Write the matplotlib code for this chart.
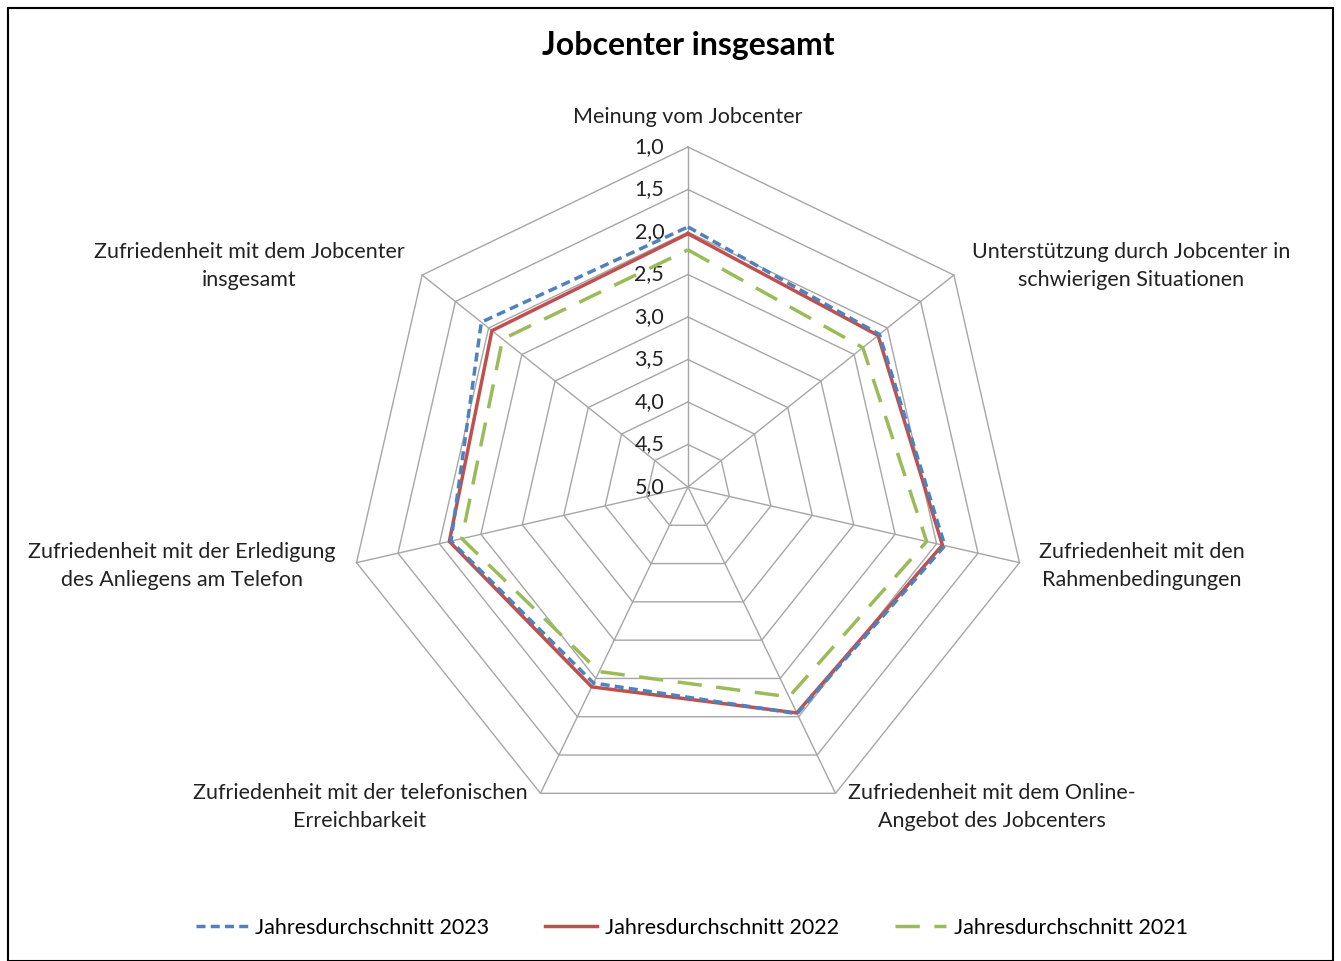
import matplotlib.pyplot as plt
import numpy as np
from matplotlib.patches import Rectangle

KATEGORIEN = [
    "Meinung vom Jobcenter",
    "Unterstützung durch Jobcenter in\nschwierigen Situationen",
    "Zufriedenheit mit den\nRahmenbedingungen",
    "Zufriedenheit mit dem Online-\nAngebot des Jobcenters",
    "Zufriedenheit mit der telefonischen\nErreichbarkeit",
    "Zufriedenheit mit der Erledigung\ndes Anliegens am Telefon",
    "Zufriedenheit mit dem Jobcenter\ninsgesamt",
]
WERTE_2023 = [1.94, 2.12, 1.90, 2.04, 2.44, 2.14, 1.89]
WERTE_2022 = [2.02, 2.14, 1.93, 2.05, 2.39, 2.12, 2.05]
WERTE_2021 = [2.21, 2.37, 2.12, 2.26, 2.59, 2.27, 2.21]
SKALA = [1.0, 1.5, 2.0, 2.5, 3.0, 3.5, 4.0, 4.5, 5.0]

plt.rcParams["font.family"] = ["Lato", "DejaVu Sans"]

PX = 85.0  # pixel pro Skaleneinheit
CX, CY = 688, 487  # mitte in pixel
FS = 15.5


def pos(px, py):
    return (px - CX) / PX, (CY - py) / PX


def xy(werte):
    n = len(werte)
    th = 2 * np.pi * np.arange(n) / n
    r = 5.0 - np.asarray(werte)
    x = r * np.sin(th)
    y = r * np.cos(th)
    return np.append(x, x[0]), np.append(y, y[0])


fig = plt.figure(figsize=(13.41, 9.61), dpi=100)
ax = fig.add_axes([0, 0, 1, 1])
ax.set_xlim(-CX / PX, (1341 - CX) / PX)
ax.set_ylim(-(961 - CY) / PX, CY / PX)
ax.axis("off")

# Netz
n = len(KATEGORIEN)
for s in SKALA[:-1]:
    gx, gy = xy([s] * n)
    ax.plot(gx, gy, color="#a6a6a6", lw=1.0, zorder=1)
for k in range(n):
    th = 2 * np.pi * k / n
    ax.plot([0, 4 * np.sin(th)], [0, 4 * np.cos(th)], color="#a6a6a6", lw=1.0, zorder=1)

for s in SKALA:
    ax.text(-0.28, 5.0 - s, f"{s:.1f}".replace(".", ","), ha="right", va="center",
            fontsize=FS, color="#222222", zorder=2)

x, y = xy(WERTE_2023)
ax.plot(x, y, color="#4f81bd", lw=2.5, dashes=(2.6, 1.5), zorder=4,
        label="Jahresdurchschnitt 2023")
x, y = xy(WERTE_2022)
ax.plot(x, y, color="#c0504d", lw=2.5, zorder=3, label="Jahresdurchschnitt 2022")
x, y = xy(WERTE_2021)
ax.plot(x, y, color="#9bbb59", lw=2.5, dashes=(7.0, 4.2), zorder=3,
        label="Jahresdurchschnitt 2021")

# Beschriftungen
LABEL_PX = [(688, 117), (1131, 266), (1142, 566), (992, 807), (360, 807), (182, 566), (249, 266)]
for txt, (px, py) in zip(KATEGORIEN, LABEL_PX):
    ax.text(*pos(px, py), txt, ha="center", va="center", fontsize=FS,
            color="#222222", linespacing=1.45)

fig.text(688 / 1341, 1 - 45 / 961, "Jobcenter insgesamt", ha="center", va="center",
         fontsize=23, fontweight="bold")

fig.legend(loc="center", bbox_to_anchor=(692 / 1341, 1 - 928 / 961), ncol=3, frameon=False,
           fontsize=FS, handlelength=2.4, handletextpad=0.35, columnspacing=2.6)

fig.patches.append(Rectangle((8 / 1341, 0), 1325 / 1341, 1 - 8 / 961, transform=fig.transFigure,
                             fill=False, edgecolor="black", lw=1.5))

fig.savefig("out.png", dpi=100)
